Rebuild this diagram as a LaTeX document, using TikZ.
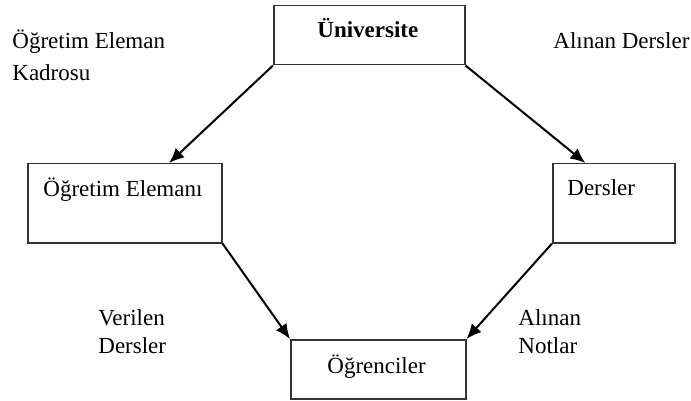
\documentclass[tikz,border=0pt]{standalone}
\usepackage{fontspec}
\setmainfont{Liberation Serif}
\usetikzlibrary{arrows.meta,calc}
\begin{document}
\begin{tikzpicture}[x=0.5pt,y=-0.5pt,
  box/.style={draw=black!80,line width=0.75pt,rectangle,inner sep=0pt},
  txt/.style={anchor=base west,inner sep=0pt,font=\fontsize{11.5}{16}\selectfont},
  flow/.style={line width=1pt,-{Latex[length=7.5pt,width=6.5pt]}}]
  \useasboundingbox (0,0) rectangle (691,401);
  % boxes
  \node[box,minimum width=191pt*0.5,minimum height=59pt*0.5,anchor=north west] (uni) at (273,5) {};
  \node[box,minimum width=194pt*0.5,minimum height=79pt*0.5,anchor=north west] (oe) at (27,163) {};
  \node[box,minimum width=122pt*0.5,minimum height=79pt*0.5,anchor=north west] (ders) at (552,163) {};
  \node[box,minimum width=175pt*0.5,minimum height=59pt*0.5,anchor=north west] (ogr) at (290,339) {};
  % box texts
  \node[txt,font=\fontsize{11.5}{16}\selectfont\bfseries] (tuni) at (317,38) {Üniversite};
  \node[txt] (toe) at (43,197) {Öğretim Elemanı};
  \node[txt] (tders) at (567,196) {Dersler};
  \node[txt] (togr) at (327,373) {Öğrenciler};
  % flow labels (anchored at the baseline of their last line)
  \node[txt,align=left] (l1) at (12,81) {Öğretim Eleman\\Kadrosu};
  \node[txt] (l2) at (553,49) {Alınan Dersler};
  \node[txt,align=left] (l3) at (98,353) {Verilen\\[-2pt]Dersler};
  \node[txt,align=left] (l4) at (518,353) {Alınan\\[-2pt]Notlar};
  % arrows
  \draw[flow] (uni.south west) -- ($(oe.north west)!0.727!(oe.north east)$);
  \draw[flow] (uni.south east) -- ($(ders.north west)!0.27!(ders.north east)$);
  \draw[flow] (oe.south east) -- (ogr.north west);
  \draw[flow] (ders.south west) -- (ogr.north east);
\end{tikzpicture}
\end{document}
